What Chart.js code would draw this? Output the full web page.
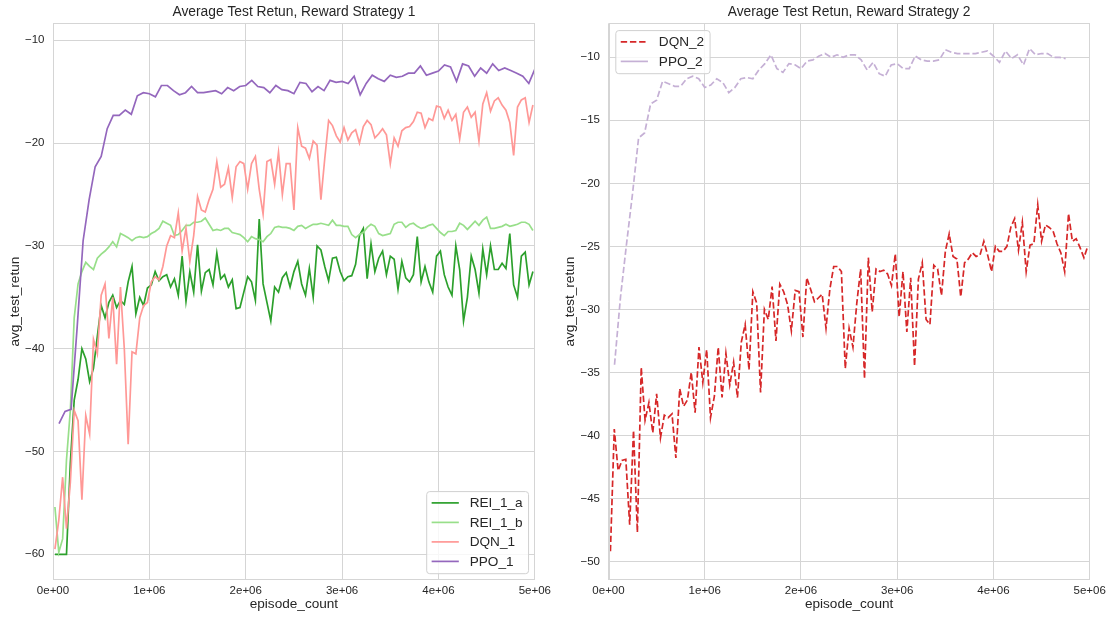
<!DOCTYPE html>
<html>
<head>
<meta charset="utf-8">
<script src="https://cdn.jsdelivr.net/npm/chart.js@4.4.1/dist/chart.umd.min.js"></script>
<style>
  html, body { margin: 0; padding: 0; background: #fff; }
  #wrap { position: relative; width: 1110px; height: 618px; }
  .panel { position: absolute; top: 0; width: 555px; height: 618px; }
</style>
</head>
<body>
<div id="wrap">
  <div class="panel" style="left:0"><canvas id="strategy1" width="555" height="618"></canvas></div>
  <div class="panel" style="left:555px"><canvas id="strategy2" width="555" height="618"></canvas></div>
</div>
<script>
const FONT = "'Liberation Sans', Arial, sans-serif";
const INK = '#262626';
const RULE = '#d5d5d5';

// REI / DQN runs were evaluated every 40k episodes, PPO runs every 62.5k
const evalStart = 20000, evalStep = 40000;
const ppoStart = 62500, ppoStep = 62500;

const xTickLabels = ['0e+00', '1e+06', '2e+06', '3e+06', '4e+06', '5e+06'];

// reward strategy 1
const rei1a = [
  -60, -60, -60, -60, -51.1, -45, -43.0, -40.0, -41.0, -43.2,
  -41.9, -38.8, -35.8, -37.0, -35.5, -34.8, -36.0, -35.3, -35.7, -33.5,
  -32.0, -36.6, -35.0, -35.8, -34.1, -33.8, -32.5, -33.4, -33.0, -32.8,
  -34.0, -33.2, -34.8, -31.0, -35.4, -32.5, -34.5, -29.9, -34.4, -32.6,
  -32.3, -33.8, -30.7, -33.2, -32.8, -34.0, -33.3, -36.1, -36.0, -34.5,
  -33.0, -33.5, -35.3, -27.4, -33.7, -35.5, -37.3, -34.0, -34.5, -33.1,
  -32.6, -34.0, -32.5, -31.5, -33.7, -34.8, -32.2, -35.0, -30.0, -30.4,
  -32.0, -33.4, -31.2, -31.1, -32.5, -33.4, -33.0, -32.9, -31.8, -29.0,
  -28.3, -33.2, -29.8, -32.5, -31.2, -30.5, -32.8, -31.0, -31.3, -34.2,
  -31.5, -33.1, -33.5, -32.8, -29.1, -33.5, -32.0, -33.5, -34.5, -31.0,
  -30.5, -32.8, -34.0, -34.8, -30.0, -32.3, -37.3, -35.0, -31.0, -32.3,
  -34.6, -30.3, -32.8, -30.0, -32.3, -32.3, -31.7, -32.2, -28.8, -33.8,
  -35.0, -31.0, -30.6, -33.8, -32.5
];
const rei1b = [
  -55.4, -59.8, -58.5, -50.8, -46.0, -37.0, -33.7, -32.5, -31.6, -32.0,
  -32.3, -31.2, -30.8, -30.5, -30.1, -29.6, -30.1, -28.8, -29.0, -29.2,
  -29.5, -29.2, -29.1, -29.2, -29.1, -28.8, -28.6, -28.3, -27.6, -27.8,
  -28.0, -29.0, -28.9, -28.5, -28.0, -28.0, -27.7, -27.7, -27.6, -27.3,
  -27.9, -28.5, -28.4, -28.5, -28.3, -28.3, -28.7, -28.8, -28.9, -29.2,
  -29.6, -29.1, -29.3, -29.4, -29.6, -29.1, -28.8, -28.2, -28.1, -28.2,
  -28.2, -28.3, -28.5, -28.1, -28.0, -28.3, -28.1, -27.9, -27.9, -27.8,
  -27.9, -28.0, -27.5, -28.0, -28.0, -28.1, -28.1, -28.9, -29.2, -28.9,
  -28.7, -28.2, -27.9, -28.1, -28.8, -29.0, -28.9, -28.8, -27.9, -27.7,
  -27.7, -28.2, -27.9, -27.8, -28.1, -28.3, -28.2, -28.0, -27.9, -28.3,
  -28.7, -29.0, -28.6, -28.6, -28.5, -27.8, -28.0, -28.4, -28.0, -27.6,
  -28.0, -27.5, -27.2, -28.3, -28.3, -28.2, -28.1, -27.9, -28.1, -28.0,
  -27.9, -27.7, -27.7, -27.9, -28.5
];
const dqn1 = [
  -59.5, -56.7, -52.5, -57.5, -53.0, -46.0, -47.0, -54.7, -46.5, -48.3,
  -39.1, -40.5, -34.8, -33.7, -39.0, -35.0, -41.5, -34.0, -40.0, -49.3,
  -40.3, -40.5, -37.0, -35.8, -35.5, -33.5, -33.0, -33.3, -32.0, -30.0,
  -29.0, -29.2, -26.8, -30.5, -28.3, -31.5, -29.0, -25.2, -26.5, -26.7,
  -25.5, -24.5, -21.8, -24.3, -24.0, -22.4, -25.3, -22.3, -21.8, -22.0,
  -24.5, -22.0, -21.3, -24.5, -26.9, -21.8, -21.6, -24.0, -20.9, -25.0,
  -22.0, -22.0, -26.5, -18.5, -20.3, -20.5, -21.5, -19.8, -20.2, -25.5,
  -21.5, -17.8, -18.3, -19.3, -19.9, -18.5, -19.7, -19.0, -18.7, -20.0,
  -18.4, -17.8, -18.2, -19.5, -19.1, -18.6, -19.2, -22.0, -19.5, -20.3,
  -18.8, -18.5, -18.4, -17.9, -17.0, -17.1, -18.5, -17.6, -17.8, -16.4,
  -16.5, -17.6, -16.8, -17.8, -17.2, -19.6, -17.0, -16.5, -17.5, -17.0,
  -19.8, -16.2, -15.1, -16.9, -15.9, -15.6, -16.3, -16.8, -18.0, -21.2,
  -16.5, -15.8, -15.6, -18.0, -16.3
];
const ppo1 = [
  -47.3, -46.1, -45.9, -38.0, -29.5, -25.5, -22.3, -21.3, -18.6, -17.3,
  -17.3, -16.8, -17.2, -15.4, -15.1, -15.2, -15.5, -14.4, -14.4, -14.9,
  -15.3, -15.1, -14.5, -15.1, -15.1, -15.0, -14.9, -15.2, -14.6, -14.9,
  -14.5, -14.4, -13.9, -14.5, -14.6, -15.1, -14.4, -14.8, -14.9, -15.2,
  -14.1, -14.2, -15.0, -14.5, -14.9, -13.9, -14.1, -14.0, -14.2, -13.5,
  -15.3, -14.2, -13.4, -13.75, -14.0, -13.4, -13.6, -13.5, -13.2, -13.2,
  -12.5, -13.4, -13.2, -13.0, -12.4, -12.6, -14.0, -12.3, -12.5, -13.5,
  -12.7, -13.2, -12.3, -12.95, -12.7, -12.95, -13.2, -13.5, -14.2, -12.8
];

// reward strategy 2
const dqn2 = [
  -49.2, -39.5, -42.8, -42.0, -41.9, -47.1, -39.6, -47.7, -34.6, -38.8,
  -37.4, -39.8, -36.7, -40.2, -38.4, -38.6, -38.3, -41.8, -36.3, -37.7,
  -37.2, -35.0, -38.2, -33.0, -35.8, -33.2, -38.6, -36.9, -33.0, -37.0,
  -33.5, -36.0, -34.2, -37.0, -32.6, -31.2, -34.8, -28.6, -29.5, -36.6,
  -30.0, -30.8, -28.2, -32.5, -28.0, -28.6, -29.6, -31.7, -28.5, -28.6,
  -32.2, -27.5, -28.4, -29.4, -29.1, -28.8, -31.5, -28.4, -26.6, -26.6,
  -27.0, -34.7, -31.5, -33.0, -29.5, -26.8, -35.5, -25.9, -30.2, -26.8,
  -27.0, -26.9, -27.2, -28.1, -25.6, -30.6, -27.0, -31.8, -27.5, -34.5,
  -27.6, -26.3, -30.8, -31.2, -26.5, -26.8, -28.9, -25.4, -24.0, -25.8,
  -26.0, -29.0, -26.3, -26.0, -25.5, -25.8, -25.7, -24.6, -25.7, -27.0,
  -25.0, -25.4, -25.4, -25.0, -23.5, -22.8, -25.3, -23.1, -27.0, -24.9,
  -24.8, -21.7, -24.6, -23.3, -23.5, -23.8, -24.8, -25.5, -27.0, -22.4,
  -24.6, -24.4, -25.1, -25.9, -25.0
];
const ppo2 = [
  -34.4, -29.0, -24.8, -20.8, -16.4, -16.0, -13.7, -13.4, -11.9, -12.1,
  -12.3, -12.3, -11.7, -11.5, -11.7, -12.4, -12.2, -11.7, -12.0, -12.8,
  -12.4, -11.7, -11.6, -11.7, -11.0, -10.5, -9.8, -10.9, -11.2, -10.5,
  -10.6, -10.9, -10.3, -10.2, -9.9, -9.7, -10.0, -9.8, -10.0, -9.8,
  -9.8, -10.2, -11.0, -10.4, -11.3, -11.5, -10.6, -10.5, -10.9, -10.9,
  -9.9, -10.2, -10.3, -10.3, -10.2, -9.4, -9.6, -9.7, -9.7, -9.7,
  -9.7, -9.6, -9.5, -9.9, -10.4, -9.5, -10.1, -9.8, -10.6, -9.3,
  -9.8, -9.7, -9.7, -10.0, -10.0, -10.1
];

function points(values, start, step) {
  return values.map((y, i) => ({x: start + i * step, y: y}));
}

function series(label, values, start, step, color, order, dash, legendDash) {
  return {
    label: label,
    data: points(values, start, step),
    borderColor: color,
    backgroundColor: color,
    borderWidth: 1.7,
    borderDash: dash || [],
    legendDash: legendDash || dash || [],
    pointRadius: 0,
    tension: 0,
    order: order
  };
}

// axes frame (all four spines, matplotlib style)
const frame = {
  id: 'frame',
  afterDatasetsDraw(chart) {
    const {ctx, chartArea: a} = chart;
    ctx.save();
    ctx.strokeStyle = RULE;
    ctx.lineWidth = 1;
    ctx.strokeRect(Math.round(a.left) + 0.5, Math.round(a.top) + 0.5,
      Math.round(a.right - a.left) - 1, Math.round(a.bottom - a.top) - 1);
    ctx.restore();
  }
};

// framed legend with line handles, placed inside the axes
const boxLegend = {
  id: 'boxLegend',
  afterDraw(chart, args, opts) {
    const {ctx, chartArea: a} = chart;
    const fs = 13.6, pad = 0.4 * fs, handle = 2 * fs, gap = 0.8 * fs;
    const rowH = 19.5, rowTop = 11.8, edge = 0.5 * fs;
    const sets = chart.data.datasets;
    ctx.save();
    ctx.font = fs + 'px ' + FONT;
    const textW = Math.max(...sets.map(d => ctx.measureText(d.label).width));
    const w = pad + handle + gap + textW + pad;
    const h = rowTop * 2 + rowH * (sets.length - 1);
    const x = opts.corner === 'lower right' ? a.right - edge - w : a.left + edge;
    const y = opts.corner === 'lower right' ? a.bottom - edge - h : a.top + edge;

    ctx.beginPath();
    if (ctx.roundRect) ctx.roundRect(x + 0.5, y + 0.5, w, h, 3);
    else ctx.rect(x + 0.5, y + 0.5, w, h);
    ctx.fillStyle = 'rgba(255,255,255,0.8)';
    ctx.fill();
    ctx.strokeStyle = '#d0d0d0';
    ctx.lineWidth = 1;
    ctx.stroke();

    sets.forEach((d, i) => {
      const cy = y + rowTop + i * rowH;
      ctx.beginPath();
      ctx.setLineDash(d.legendDash);
      ctx.strokeStyle = d.borderColor;
      ctx.lineWidth = d.borderWidth;
      ctx.moveTo(x + pad, cy);
      ctx.lineTo(x + pad + handle, cy);
      ctx.stroke();
      ctx.setLineDash([]);
      ctx.fillStyle = INK;
      ctx.textBaseline = 'middle';
      ctx.textAlign = 'left';
      ctx.fillText(d.label, x + pad + handle + gap, cy + 0.5);
    });
    ctx.restore();
  }
};

function panelOptions(title, yMin, yMax, yStep, yWidth, rightPad, corner) {
  return {
    responsive: false,
    animation: false,
    events: [],
    layout: {padding: {left: 0, right: rightPad, top: 0, bottom: 0}},
    plugins: {
      legend: {display: false},
      tooltip: {enabled: false},
      title: {
        display: true,
        text: title,
        fullSize: false,
        color: INK,
        font: {family: FONT, size: 13.8, weight: 'normal'},
        padding: {top: 4.2, bottom: 2.54}
      },
      boxLegend: {corner: corner}
    },
    scales: {
      x: {
        type: 'linear',
        min: 0,
        max: 5000000,
        afterFit: s => { s.height = 38; },
        border: {display: false},
        grid: {color: RULE, lineWidth: 1, drawTicks: false},
        ticks: {
          stepSize: 1000000,
          padding: 4,
          color: INK,
          font: {family: FONT, size: 11.5},
          maxRotation: 0,
          callback: v => xTickLabels[Math.round(v / 1000000)]
        },
        title: {
          display: true,
          text: 'episode_count',
          color: INK,
          font: {family: FONT, size: 13.6},
          padding: {top: 0, bottom: 5.2}
        }
      },
      y: {
        min: yMin,
        max: yMax,
        afterFit: s => { s.width = yWidth; },
        border: {display: false},
        grid: {color: RULE, lineWidth: 1, drawTicks: false},
        ticks: {
          stepSize: yStep,
          includeBounds: false,
          padding: 8.5,
          color: INK,
          font: {family: FONT, size: 11.5},
          callback: v => (v < 0 ? '\u2212' + (-v) : String(v))
        },
        title: {
          display: true,
          text: 'avg_test_retun',
          color: INK,
          font: {family: FONT, size: 13.6},
          padding: {top: 7.4, bottom: 0}
        }
      }
    }
  };
}

new Chart(document.getElementById('strategy1').getContext('2d'), {
  type: 'line',
  data: {
    datasets: [
      series('REI_1_a', rei1a, evalStart, evalStep, '#2ca02c', 3),
      series('REI_1_b', rei1b, evalStart, evalStep, '#98df8a', 2),
      series('DQN_1', dqn1, evalStart, evalStep, '#ff9896', 1),
      series('PPO_1', ppo1, ppoStart, ppoStep, '#9467bd', 0)
    ]
  },
  options: panelOptions('Average Test Retun, Reward Strategy 1', -62.5, -8.35, 10, 53, 20, 'lower right'),
  plugins: [frame, boxLegend]
});

new Chart(document.getElementById('strategy2').getContext('2d'), {
  type: 'line',
  data: {
    datasets: [
      series('DQN_2', dqn2, evalStart, evalStep, '#d62728', 1, [6.4, 2.8]),
      series('PPO_2', ppo2, ppoStart, ppoStep, '#c5b0d5', 0, [6.4, 2.8], [])
    ]
  },
  options: panelOptions('Average Test Retun, Reward Strategy 2', -51.48, -7.3, 5, 53.5, 20.3, 'upper left'),
  plugins: [frame, boxLegend]
});
</script>
</body>
</html>
